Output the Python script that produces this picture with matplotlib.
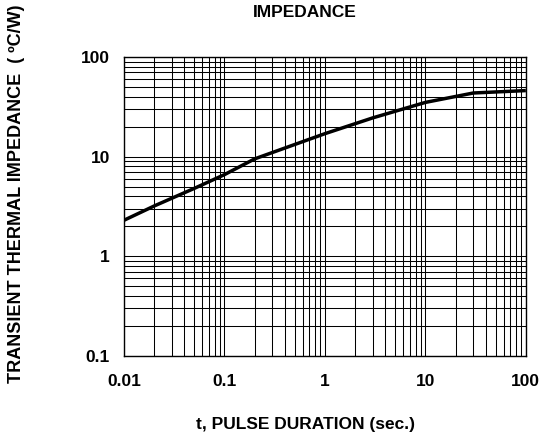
import matplotlib
matplotlib.use('Agg')
import matplotlib.pyplot as plt
import numpy as np

# transient thermal impedance curve
pulse_sec = [0.01, 0.02, 0.05, 0.1, 0.2, 0.3, 1, 3, 10, 30, 100]
zth_cw = [2.3, 3.2, 4.8, 6.6, 9.5, 11.0, 17, 24.5, 35, 43.5, 46]

x_ticks = [0.01, 0.1, 1, 10, 100]
x_ticklabels = ['0.01', '0.1', '1', '10', '100']
y_ticks = [0.1, 1, 10, 100]
y_ticklabels = ['0.1', '1', '10', '100']

plt.rcParams['font.family'] = ['Liberation Sans', 'DejaVu Sans']
plt.rcParams['font.weight'] = 'bold'

fig = plt.figure(figsize=(5.6, 4.45), dpi=100)
ax = fig.add_axes([0.2214, 0.2, 0.7176, 0.672])

ax.plot(pulse_sec, zth_cw, color='black', linewidth=2.5, solid_capstyle='butt', zorder=3)

ax.set_xscale('log')
ax.set_yscale('log')
ax.set_xlim(0.01, 100)
ax.set_ylim(0.1, 100)

ax.set_xticks(x_ticks)
ax.set_xticklabels(x_ticklabels)
ax.set_yticks(y_ticks)
ax.set_yticklabels(y_ticklabels)
ax.xaxis.set_minor_locator(matplotlib.ticker.LogLocator(base=10, subs=np.arange(2, 10)))
ax.yaxis.set_minor_locator(matplotlib.ticker.LogLocator(base=10, subs=np.arange(2, 10)))
ax.xaxis.set_minor_formatter(matplotlib.ticker.NullFormatter())
ax.yaxis.set_minor_formatter(matplotlib.ticker.NullFormatter())

ax.grid(True, which='both', color='black', linewidth=0.75)
ax.tick_params(which='both', length=0, labelsize=12.5)
ax.tick_params(axis='x', pad=13)
ax.tick_params(axis='y', pad=10)
for s in ax.spines.values():
    s.set_color('black')
    s.set_linewidth(1)

fig.text(0.545, 0.972, 'IMPEDANCE', ha='center', va='center', fontsize=12.5, fontweight='bold')
fig.text(0.545, 0.045, 't, PULSE DURATION (sec.)', ha='center', va='center', fontsize=12.5, fontweight='bold')
fig.text(0.03, 0.565, 'TRANSIENT THERMAL IMPEDANCE  ( \u00baC/W)', ha='center', va='center',
         rotation=90, fontsize=13, fontweight='bold')

fig.savefig('out.png', dpi=100)
